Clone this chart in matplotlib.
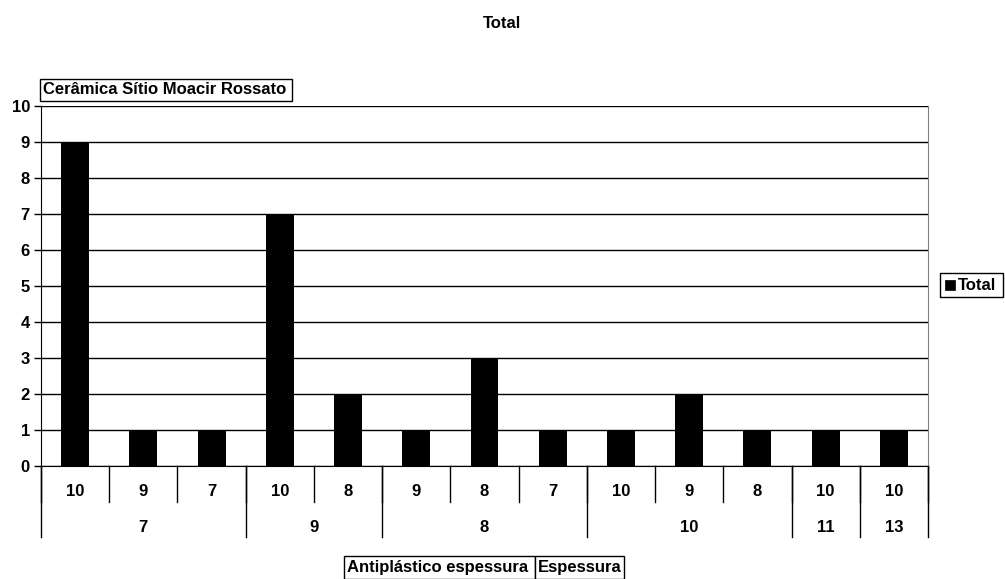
import matplotlib
matplotlib.use("Agg")
import matplotlib.pyplot as plt
from matplotlib.patches import Rectangle
from matplotlib.transforms import blended_transform_factory
import numpy as np

plt.rcParams["font.family"] = ["Liberation Sans", "DejaVu Sans"]
plt.rcParams["font.weight"] = "bold"

# pivot rows: Espessura (outer) -> Antiplástico espessura (inner)
outer_labels = ["7", "9", "8", "10", "11", "13"]
inner_labels = [["10", "9", "7"], ["10", "8"], ["9", "8", "7"],
                ["10", "9", "8"], ["10"], ["10"]]
counts = [[9, 1, 1], [7, 2], [1, 3, 1], [1, 2, 1], [1], [1]]

vals = [v for grp in counts for v in grp]
inner_flat = [lab for grp in inner_labels for lab in grp]
n = len(vals)
x = np.arange(n)

W, H = 1005, 579
FS = 12
fig = plt.figure(figsize=(W / 100, H / 100), dpi=100)
ax = fig.add_axes([41 / W, (H - 466) / H, 887 / W, 360 / H])

ax.bar(x, vals, width=0.41, color="black", zorder=3)
ax.set_xlim(-0.5, n - 0.5)
ax.set_ylim(0, 10)
ax.set_yticks(range(0, 11))
ax.tick_params(axis="y", length=5, width=1, labelsize=FS, pad=3)
ax.set_xticks([])
ax.yaxis.grid(True, color="black", lw=1)
ax.set_axisbelow(True)
ax.spines["top"].set_visible(False)
ax.spines["right"].set_color("#808080")

# two-level category axis drawn below the plot
tr = blended_transform_factory(ax.transData, ax.transAxes)
lvl1, lvl2 = -36 / 360, -71 / 360
for i, lab in enumerate(inner_flat):
    ax.text(i, -26 / 360, lab, transform=tr, ha="center", va="center",
            fontsize=FS, fontweight="bold")
edges = [-0.5]
for grp in counts:
    edges.append(edges[-1] + len(grp))
for b in np.arange(n + 1) - 0.5:
    ax.plot([b, b], [0, lvl1], transform=tr, color="black", lw=1, clip_on=False)
for b in edges:
    ax.plot([b, b], [0, lvl2], transform=tr, color="black", lw=1, clip_on=False)
for lo, hi, lab in zip(edges[:-1], edges[1:], outer_labels):
    ax.text((lo + hi) / 2, -61 / 360, lab, transform=tr, ha="center",
            va="center", fontsize=FS, fontweight="bold")

fig.text(502 / W, 1 - 23 / H, "Total", ha="center", va="center",
         fontsize=FS, fontweight="bold")


def field_button(x0, y0, x1, y1, label):
    # pivot field button: framed label, coords in pixels from top-left
    fig.patches.append(Rectangle((x0 / W, 1 - y1 / H), (x1 - x0) / W,
                                 (y1 - y0) / H, transform=fig.transFigure,
                                 fc="white", ec="black", lw=1))
    fig.text((x0 + 3) / W, 1 - (y0 + y1) / 2 / H, label, ha="left",
             va="center", fontsize=FS, fontweight="bold")


field_button(40, 79, 292, 101, "Cerâmica Sítio Moacir Rossato")
field_button(344, 556, 535, 579, "Antiplástico espessura")
field_button(535, 556, 624, 579, "Espessura")

# legend
fig.patches.append(Rectangle((940 / W, 1 - 297 / H), 63 / W, 24 / H,
                             transform=fig.transFigure, fc="white",
                             ec="black", lw=1))
fig.patches.append(Rectangle((945 / W, 1 - 290 / H), 10 / W, 10 / H,
                             transform=fig.transFigure, fc="black",
                             ec="black", lw=0.5))
fig.text(958 / W, 1 - 285 / H, "Total", ha="left", va="center",
         fontsize=FS, fontweight="bold")

fig.savefig("out.png", dpi=100)
